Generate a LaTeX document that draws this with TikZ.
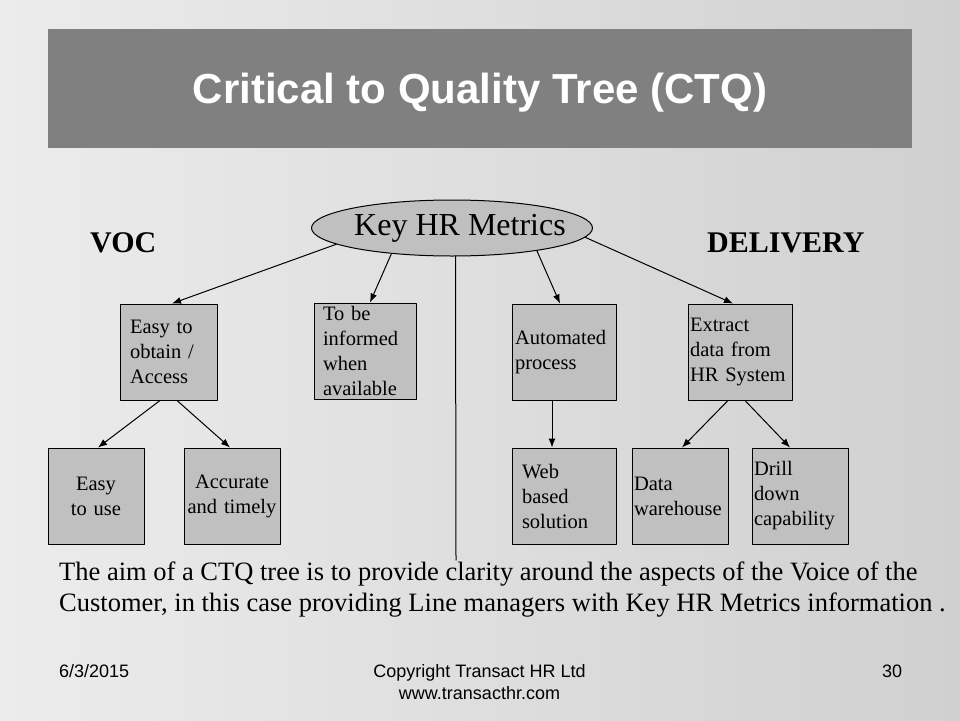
\documentclass[tikz,border=0pt]{standalone}
\usepackage{fontspec}
\setmainfont{Liberation Serif}
\setsansfont{Liberation Sans}
\usetikzlibrary{arrows.meta,shapes.geometric}
\definecolor{slidelight}{RGB}{236,236,236}
\definecolor{slidedark}{RGB}{208,208,208}
\definecolor{titlegray}{RGB}{128,128,128}
\definecolor{boxgray}{RGB}{192,192,192}
\newcommand\ctqboxfont{\fontsize{20.5}{25}\selectfont}
\tikzset{
  >={Latex[length=9pt,width=7pt]},
  box/.style 2 args ={draw, fill=boxgray, line width=1pt, minimum width=#1,
                      minimum height=96pt, inner xsep=0pt, inner ysep=0pt,
                      text width=#2, align=left, font=\ctqboxfont},
  link/.style ={->, line width=1pt},
  side/.style ={font=\bfseries\fontsize{30}{36}\selectfont, inner sep=0pt},
  foot/.style ={font=\sffamily\fontsize{18}{22}\selectfont, inner sep=0pt},
}

\begin{document}
\begin{tikzpicture}[x=1pt, y=-1pt, line cap=round, line join=round]
  \useasboundingbox (0,0) rectangle (960,720);
  %--- slide background and title bar ---
  \shade[left color=slidelight, right color=slidedark] (0,0) rectangle (960,720);
  \fill[titlegray] (48,29) rectangle (912,148);
  \node[anchor=base, inner sep=0pt, text=white,
        font=\sffamily\bfseries\fontsize{42}{50}\selectfont] (title) at (480,103)
    {Critical to Quality Tree (CTQ)};

  %--- root of the tree ---
  \node[ellipse, draw, fill=boxgray, line width=1pt, minimum width=281pt,
        minimum height=56pt, inner sep=0pt, font=\fontsize{32}{36}\selectfont]
    (key) at (452,228) {\makebox[0pt]{\kern16pt Key HR Metrics}};
  \node[side, anchor=base west] (voc) at (90,252) {VOC};
  \node[side, anchor=base west] (delivery) at (707,252) {DELIVERY};

  %--- first level ---
  \node[box={97pt}{77pt}] (obtain) at (168.5,352) {Easy to\\obtain /\\Access};
  \node[box={102pt}{84pt}] (informed) at (365,351) {To be\\informed\\when\\available};
  \node[box={104pt}{98pt}] (automated) at (564,352) {Automated\\process};
  \node[box={104pt}{100pt}] (extract) at (740,352) {Extract\\data from\\HR System};

  %--- second level ---
  \node[box={96pt}{96pt}, align=center] (easyuse) at (96,496) {Easy\\to use};
  \node[box={96pt}{96pt}, align=center] (accurate) at (232,496) {Accurate\\and timely};
  \node[box={104pt}{84pt}] (web) at (564,496) {Web\\based\\solution};
  \node[box={96pt}{92pt}] (warehouse) at (680,496) {Data\\warehouse};
  \node[box={96pt}{92pt}] (drill) at (800,496) {Drill\\down\\capability};

  %--- connectors ---
  \draw[link] (key.188) -- ([xshift=3.5pt]obtain.north);
  \draw[link] (key.203) -- ([xshift=5pt]informed.north);
  \draw[link] (key.345) -- ([xshift=-4pt]automated.north);
  \draw[link] (key.356) -- ([xshift=-7pt]extract.north);
  \draw[link] ([xshift=-8.5pt]obtain.south) -- ([xshift=2pt]easyuse.north);
  \draw[link] ([xshift=8.5pt]obtain.south) -- ([xshift=-2pt]accurate.north);
  \draw[link] ([xshift=-12pt]automated.south) -- ([xshift=-12pt]web.north);
  \draw[link] ([xshift=-12pt]extract.south) -- ([xshift=2pt]warehouse.north);
  \draw[link] ([xshift=5pt]extract.south) -- ([xshift=-10pt]drill.north);

  % divider between VOC and DELIVERY
  \coordinate (stemend) at (456,560);
  \draw[line width=1pt] ([xshift=3.5pt]key.south) -- (stemend);

  %--- caption and footer ---
  \node[anchor=north west, inner sep=0pt, align=left,
        font=\fontsize{26.5}{31}\selectfont] (aim) at (59,562)
    {The aim of a CTQ tree is to provide clarity around the aspects of the Voice of the\\
     Customer, in this case providing Line managers with Key HR Metrics information .};
  \node[foot, anchor=base west] (date) at (59,677) {6/3/2015};
  \node[foot, anchor=north, align=center] (copy) at (479.5,664)
    {Copyright Transact HR Ltd\\www.transacthr.com};
  \node[foot, anchor=base west] (page) at (882,677) {30};
\end{tikzpicture}
\end{document}
